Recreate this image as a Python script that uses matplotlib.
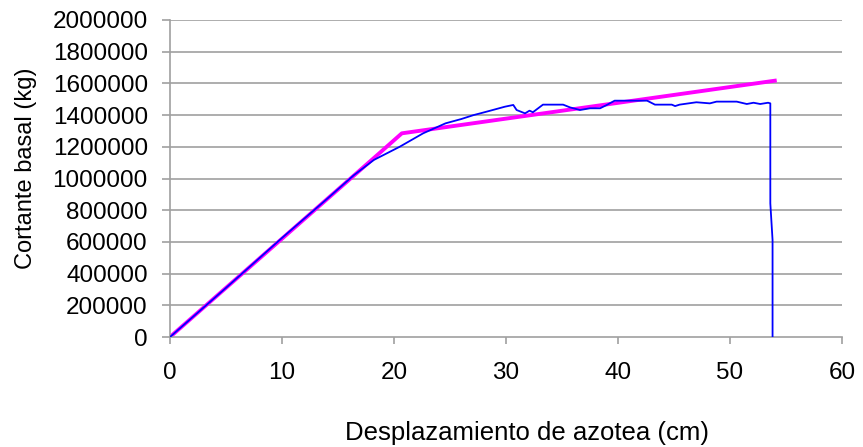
import matplotlib
matplotlib.use("Agg")
import matplotlib.pyplot as plt

# pushover curve (blue)
desp_x = [0, 5, 10, 14, 16.4, 18.2, 20.5, 22.6, 24.6, 26.0, 27.1, 27.7, 28.6,
          29.9, 30.65, 30.95, 31.7, 32.1, 32.4, 33.3, 35.1, 35.7, 36.6, 37.5,
          38.4, 39.0, 39.7, 42.6, 43.3, 44.8, 45.1, 45.5, 47.0, 48.2, 48.8,
          50.6, 51.5, 52.1, 52.7, 53.4, 53.6, 53.6, 53.8, 53.8]
cortante_y = [0, 310000, 625000, 870000, 1020000, 1117000, 1200000, 1285000,
              1348000, 1375000, 1400000, 1411000, 1428000, 1453000, 1464000,
              1432000, 1411000, 1428000, 1418000, 1466000, 1466000, 1449000,
              1432000, 1443000, 1443000, 1464000, 1491000, 1491000, 1466000,
              1466000, 1457000, 1466000, 1481000, 1474000, 1485000, 1485000,
              1470000, 1478000, 1470000, 1478000, 1474000, 843000, 612000, 0]

# bilinear idealisation (magenta)
bilin_x = [0, 18.7, 20.7, 54.0]
bilin_y = [0, 1160000, 1285000, 1617000]

y_ticks = [0, 200000, 400000, 600000, 800000, 1000000, 1200000, 1400000,
           1600000, 1800000, 2000000]
x_ticks = [0, 10, 20, 30, 40, 50, 60]

plt.rcParams['font.family'] = ['Liberation Sans', 'DejaVu Sans']

fig = plt.figure(figsize=(8.63, 4.47), dpi=100)
ax = fig.add_axes([170 / 863, 110 / 447, 672 / 863, 317 / 447])

grid_col = '#a0a0a0'
for yv in y_ticks[1:]:
    ax.axhline(yv, color=grid_col, lw=1.2, zorder=0)

ax.plot(bilin_x, bilin_y, color='#ff00ff', lw=2.8, zorder=2)
ax.plot(desp_x, cortante_y, color='#0000ff', lw=1.3, zorder=3)

ax.set_xlim(0, 60)
ax.set_ylim(0, 2000000)
ax.set_xticks(x_ticks)
ax.set_xticklabels([str(v) for v in x_ticks])
ax.set_yticks(y_ticks)
ax.set_yticklabels([str(v) for v in y_ticks])

for s in ['top', 'right']:
    ax.spines[s].set_visible(False)
for s in ['left', 'bottom']:
    ax.spines[s].set_color(grid_col)
    ax.spines[s].set_linewidth(1.2)

ax.tick_params(axis='both', colors=grid_col, labelcolor='black',
               labelsize=17.5, width=1.2)
ax.tick_params(axis='x', length=5, pad=13)
ax.tick_params(axis='y', length=6, pad=10)

ax.set_xlabel('Desplazamiento de azotea (cm)', fontsize=18.5)
ax.xaxis.set_label_coords(0.531, -0.303)
ax.xaxis.label.set_va('center')
ax.set_ylabel('Cortante basal (kg)', fontsize=17)
ax.yaxis.set_label_coords(-0.214, 0.533)
ax.yaxis.label.set_va('center')

fig.savefig('out.png', dpi=100)
